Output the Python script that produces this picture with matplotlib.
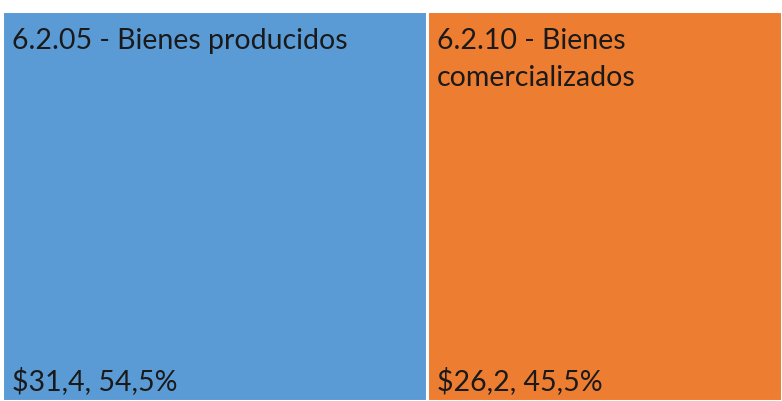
import matplotlib.pyplot as plt

names = ["6.2.05 - Bienes producidos", "6.2.10 - Bienes\ncomercializados"]
values = [31.4, 26.2]
colors = ["#5b9bd5", "#ed7d31"]

total = sum(values)
fig = plt.figure(figsize=(7.82, 4.01), dpi=100)
ax = fig.add_axes([2 / 782, 0, 780 / 782, 390 / 401])
ax.set_xlim(0, total)
ax.set_ylim(0, 1)
ax.axis("off")

left = 0
for name, v, c in zip(names, values, colors):
    ax.bar(left, 1, width=v, align="edge", color=c, edgecolor="white", linewidth=2.2)
    pct = v / total * 100
    ax.annotate(name, (left, 1), xytext=(10, -17), textcoords="offset pixels",
                ha="left", va="top", fontsize=20.5, family="Lato", color="#1a1a1a",
                linespacing=1.5)
    lbl = ("$%.1f, %.1f%%" % (v, pct)).replace(".", ",")
    ax.annotate(lbl, (left, 0), xytext=(10, 6), textcoords="offset pixels",
                ha="left", va="bottom", fontsize=20.5, family="Lato", color="#1a1a1a")
    left += v

fig.savefig("out.png", dpi=100)
